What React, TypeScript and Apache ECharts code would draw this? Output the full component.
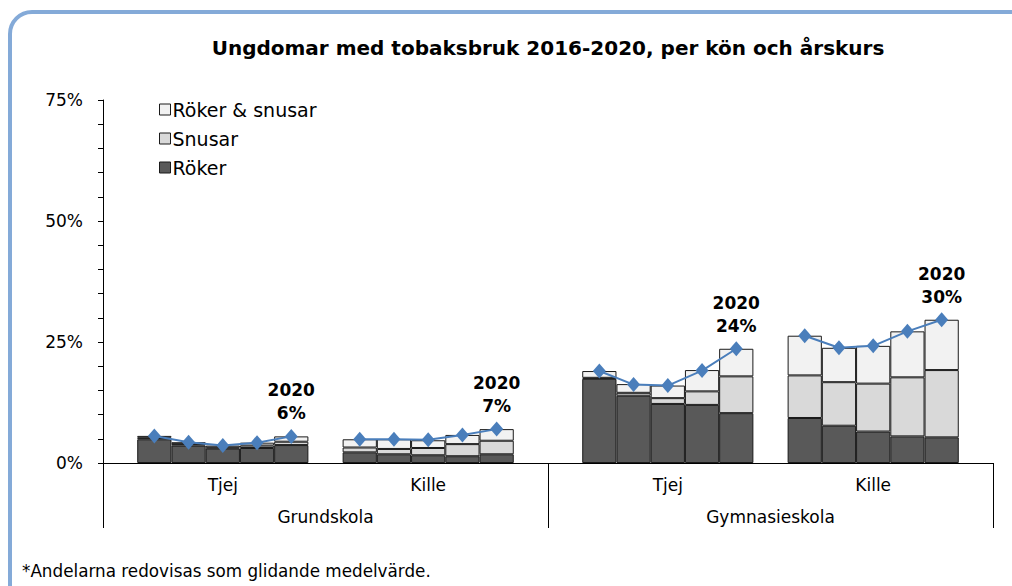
import React, { useEffect, useRef } from "react";
import * as echarts from "echarts";

const FONT = "DejaVu Sans";

const title = "Ungdomar med tobaksbruk 2016-2020, per kön och årskurs";
const footnote = "*Andelarna redovisas som glidande medelvärde.";
const seriesNames = ["Röker", "Snusar", "Röker & snusar"];
const years = ["2016", "2017", "2018", "2019", "2020"];
const schools = ["Grundskola", "Gymnasieskola"];
const genders = ["Tjej", "Kille"];
const yTicks = [0, 25, 50, 75];

// per group: Grundskola Tjej, Grundskola Kille, Gymnasieskola Tjej, Gymnasieskola Kille
const roker = [
  [4.9, 3.6, 3.0, 3.1, 3.7],
  [2.2, 1.8, 1.6, 1.4, 1.8],
  [17.4, 13.9, 12.2, 12.0, 10.3],
  [9.3, 7.7, 6.5, 5.5, 5.3],
];
const snusar = [
  [0.3, 0.3, 0.2, 0.5, 0.7],
  [1.0, 1.1, 1.5, 2.5, 2.8],
  [0.2, 0.6, 1.2, 2.8, 7.6],
  [8.8, 9.0, 9.9, 12.2, 13.9],
];
const rokerSnusar = [
  [0.4, 0.4, 0.4, 0.6, 1.1],
  [1.7, 2.0, 1.6, 1.9, 2.4],
  [1.4, 1.8, 2.6, 4.4, 5.7],
  [8.2, 7.1, 7.8, 9.5, 10.4],
];
const totalt = [
  [5.6, 4.3, 3.6, 4.2, 5.5],
  [4.9, 4.9, 4.8, 5.8, 7.0],
  [19.0, 16.2, 16.0, 19.1, 23.6],
  [26.3, 23.8, 24.2, 27.2, 29.6],
];

// empty slots before each group (and after the last)
const gapsBefore = [1, 1, 2, 1];
const gapAfter = 1;

function buildSlots() {
  const cats: string[] = [];
  const groupIdx: number[] = [];
  const yearIdx: number[] = [];
  const centers: number[] = [];
  let g = 0;
  for (let s = 0; s < schools.length; s++) {
    for (let k = 0; k < genders.length; k++) {
      for (let e = 0; e < gapsBefore[g]; e++) {
        cats.push("gap" + cats.length);
        groupIdx.push(-1);
        yearIdx.push(-1);
      }
      for (let y = 0; y < years.length; y++) {
        if (y === Math.floor(years.length / 2)) centers.push(cats.length);
        cats.push(schools[s] + "|" + genders[k] + "|" + years[y]);
        groupIdx.push(g);
        yearIdx.push(y);
      }
      g++;
    }
  }
  for (let e = 0; e < gapAfter; e++) {
    cats.push("gap" + cats.length);
    groupIdx.push(-1);
    yearIdx.push(-1);
  }
  return { cats, groupIdx, yearIdx, centers };
}

export default function App() {
  const ref = useRef<HTMLDivElement>(null);
  useEffect(() => {
    if (!ref.current) return;
    const chart = echarts.init(ref.current, null, { renderer: "svg" });
    const { cats, groupIdx, yearIdx, centers } = buildSlots();
    const pick = (arr: number[][]) =>
      cats.map((_, i) => (groupIdx[i] < 0 ? "-" : arr[groupIdx[i]][yearIdx[i]]));
    const lineData = cats.map((_, i) => {
      if (groupIdx[i] < 0) return null;
      const v = totalt[groupIdx[i]][yearIdx[i]];
      if (yearIdx[i] === years.length - 1) {
        return {
          value: v,
          label: {
            show: true,
            position: "top",
            distance: 4,
            formatter: (p: any) => years[years.length - 1] + "\n" + Math.round(p.value) + "%",
            fontFamily: FONT,
            fontWeight: "bold",
            fontSize: 17,
            lineHeight: 23,
            color: "#000",
          },
        };
      }
      return v;
    });
    const barColors = ["#595959", "#D9D9D9", "#F2F2F2"];
    const barData = [roker, snusar, rokerSnusar];
    const bars = seriesNames.map((name, si) => ({
      name,
      type: "bar",
      stack: "total",
      barWidth: "100%",
      data: pick(barData[si]),
      itemStyle: { color: barColors[si], borderColor: "#1a1a1a", borderWidth: 1 },
      emphasis: { disabled: true },
    }));
    chart.setOption({
      animation: false,
      backgroundColor: "#fff",
      textStyle: { fontFamily: FONT },
      title: {
        text: title,
        left: 543,
        textAlign: "center",
        top: 33,
        textStyle: { fontFamily: FONT, fontSize: 20, fontWeight: "bold", color: "#000" },
      },
      legend: {
        data: [seriesNames[2], seriesNames[1], seriesNames[0]],
        orient: "vertical",
        left: 154,
        top: 95,
        itemWidth: 11,
        itemHeight: 11,
        itemGap: 10,
        icon: "rect",
        itemStyle: { borderColor: "#1a1a1a", borderWidth: 1 },
        textStyle: { fontFamily: FONT, fontSize: 19, color: "#000", padding: [0, 0, 0, -3] },
        selectedMode: false,
      },
      grid: { left: 103, right: 19, top: 100, bottom: 123, containLabel: false },
      xAxis: [
        {
          type: "category",
          data: cats,
          position: "bottom",
          axisLine: { show: true, lineStyle: { color: "#000", width: 1 } },
          axisTick: { show: false },
          axisLabel: {
            interval: (index: number) => centers.includes(index),
            formatter: (v: string) => v.split("|")[1] || "",
            fontFamily: FONT,
            fontSize: 17,
            color: "#000",
            margin: 13,
          },
          splitLine: { show: false },
        },
        {
          type: "category",
          data: schools,
          position: "bottom",
          axisLine: { show: false },
          axisTick: { show: true, length: 65, interval: 0, lineStyle: { color: "#000", width: 1 } },
          axisLabel: { fontFamily: FONT, fontSize: 17, color: "#000", margin: 45 },
          splitLine: { show: false },
        },
      ],
      yAxis: {
        type: "value",
        min: 0,
        max: yTicks[yTicks.length - 1],
        interval: yTicks[1] - yTicks[0],
        axisLine: { show: true, lineStyle: { color: "#000", width: 1 } },
        axisTick: { show: true, length: 5, lineStyle: { color: "#000" } },
        minorTick: { show: true, splitNumber: 5, length: 5, lineStyle: { color: "#000" } },
        splitLine: { show: false },
        axisLabel: {
          formatter: "{value}%",
          fontFamily: FONT,
          fontSize: 17,
          color: "#000",
          margin: 20,
        },
      },
      series: [
        ...bars,
        {
          name: "Totalt",
          type: "line",
          data: lineData,
          connectNulls: false,
          symbol: "diamond",
          symbolSize: [13, 15],
          lineStyle: { color: "#4A7EBB", width: 2 },
          itemStyle: { color: "#4A7EBB" },
          z: 5,
          emphasis: { disabled: true },
        },
      ],
      graphic: [
        {
          type: "rect",
          z: -10,
          silent: true,
          shape: { x: 10, y: 12, width: 1030, height: 600, r: 22 },
          style: { fill: "none", stroke: "#84AAD8", lineWidth: 4 },
        },
        {
          type: "text",
          left: 22,
          top: 562,
          silent: true,
          style: { text: footnote, fontFamily: FONT, fontSize: 16.8, fill: "#000" },
        },
      ],
    });
    return () => chart.dispose();
  }, []);
  return (
    <div
      ref={ref}
      style={{ position: "fixed", left: 0, top: 0, width: 1012, height: 586 }}
    />
  );
}
